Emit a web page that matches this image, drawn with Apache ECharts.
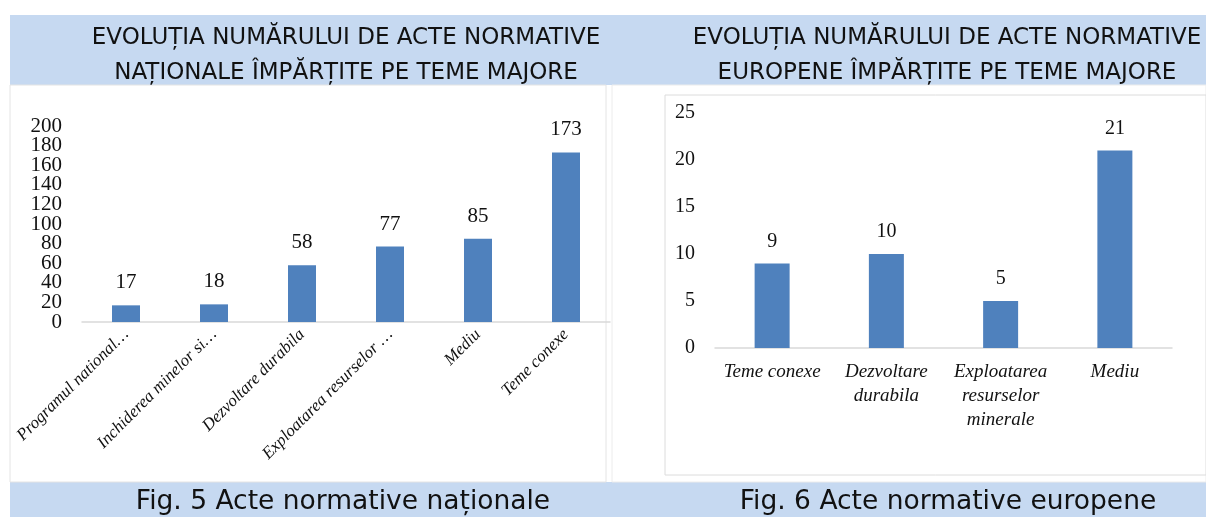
<!DOCTYPE html>
<html>
<head>
<meta charset="utf-8">
<script src="https://cdn.jsdelivr.net/npm/echarts@6/dist/echarts.min.js"></script>
<style>
  html, body { margin: 0; padding: 0; background: #fff; }
  #main { width: 1206px; height: 517px; }
</style>
</head>
<body>
<div id="main"></div>
<script>
  // fig. 5 - acte normative nationale
  var natCategories = ['Programul national…', 'Inchiderea minelor si…', 'Dezvoltare durabila', 'Exploatarea resurselor …', 'Mediu', 'Teme conexe']
  var natValues = [17, 18, 58, 77, 85, 173]
  // fig. 6 - acte normative europene
  var euCategories = ['Teme conexe', 'Dezvoltare\ndurabila', 'Exploatarea\nresurselor\nminerale', 'Mediu']
  var euValues = [9, 10, 5, 21]

  var titleFont = '"DejaVu Sans", Verdana, sans-serif'
  var serif = '"Liberation Serif", "Times New Roman", serif'
  var band = '#c6d9f1'
  var barColor = '#4f81bd'

  // etichetele 0..200 sunt prea dese pt o singura axa (echarts le ascunde),
  // asa ca le impart pe doua axe: 0,40,..200 si 20,60,..180
  var natTop = 126, natH = 196
  var step = natH / 10

  var yLabel = { margin: 20, showMinLabel: true, showMaxLabel: true, fontFamily: serif, fontSize: 21, color: '#111' }

  var myChart = echarts.init(document.getElementById('main'))
  myChart.setOption({
    animation: false,
    graphic: [
      // benzile albastre
      { type: 'rect', shape: { x: 10, y: 15, width: 1196, height: 70 }, style: { fill: band }, z: -10 },
      { type: 'rect', shape: { x: 10, y: 482, width: 1196, height: 35 }, style: { fill: band }, z: -10 },
      // panouri
      { type: 'rect', shape: { x: 10, y: 85, width: 596, height: 397 }, style: { fill: '#fff', stroke: '#e4e4e4', lineWidth: 1 }, z: -9 },
      { type: 'rect', shape: { x: 612, y: 85, width: 594, height: 397 }, style: { fill: '#fff', stroke: '#ececec', lineWidth: 1 }, z: -9 },
      { type: 'rect', shape: { x: 665, y: 95, width: 541, height: 380 }, style: { fill: '#fff', stroke: '#dcdcdc', lineWidth: 1 }, z: -8 }
    ],
    title: [
      {
        text: 'EVOLUȚIA NUMĂRULUI DE ACTE NORMATIVE\nNAȚIONALE ÎMPĂRȚITE PE TEME MAJORE',
        left: 341, top: 16, textAlign: 'center',
        textStyle: { fontFamily: titleFont, fontWeight: 'normal', fontSize: 23, color: '#111', lineHeight: 35 }
      },
      {
        text: 'EVOLUȚIA NUMĂRULUI DE ACTE NORMATIVE\nEUROPENE ÎMPĂRȚITE PE TEME MAJORE',
        left: 942, top: 16, textAlign: 'center',
        textStyle: { fontFamily: titleFont, fontWeight: 'normal', fontSize: 23, color: '#111', lineHeight: 35 }
      },
      {
        text: 'Fig. 5 Acte normative naționale',
        left: 338, top: 484, textAlign: 'center',
        textStyle: { fontFamily: titleFont, fontWeight: 'normal', fontSize: 26.5, color: '#111' }
      },
      {
        text: 'Fig. 6 Acte normative europene',
        left: 943, top: 484, textAlign: 'center',
        textStyle: { fontFamily: titleFont, fontWeight: 'normal', fontSize: 26.5, color: '#111' }
      }
    ],
    grid: [
      { left: 82, top: natTop, width: 528, height: natH },
      { left: 715, top: 113, width: 457, height: 235 },
      { left: 82, top: natTop + step, width: 528, height: natH - 2 * step }
    ],
    xAxis: [
      {
        gridIndex: 0, type: 'category', data: natCategories,
        axisLine: { lineStyle: { color: '#d9d9d9', width: 1.5 } },
        axisTick: { show: false },
        axisLabel: { rotate: 45, interval: 0, margin: 10, fontFamily: serif, fontStyle: 'italic', fontSize: 17, color: '#111' }
      },
      {
        gridIndex: 1, type: 'category', data: euCategories,
        axisLine: { lineStyle: { color: '#d9d9d9', width: 1.5 } },
        axisTick: { show: false },
        axisLabel: { interval: 0, margin: 12, fontFamily: serif, fontStyle: 'italic', fontSize: 19, lineHeight: 24, color: '#111' }
      },
      {
        gridIndex: 2, type: 'category', data: natCategories, show: false
      }
    ],
    yAxis: [
      {
        gridIndex: 0, type: 'value', min: 0, max: 200, interval: 40,
        axisLine: { show: false }, axisTick: { show: false }, splitLine: { show: false },
        axisLabel: yLabel
      },
      {
        gridIndex: 1, type: 'value', min: 0, max: 25, interval: 5,
        axisLine: { show: false }, axisTick: { show: false }, splitLine: { show: false },
        axisLabel: { margin: 20, showMinLabel: true, showMaxLabel: true, fontFamily: serif, fontSize: 20, color: '#111' }
      },
      {
        gridIndex: 2, type: 'value', min: 20, max: 180, interval: 40,
        axisLine: { show: false }, axisTick: { show: false }, splitLine: { show: false },
        axisLabel: yLabel
      }
    ],
    series: [
      {
        type: 'bar', xAxisIndex: 0, yAxisIndex: 0, data: natValues, barWidth: 28,
        itemStyle: { color: barColor },
        label: { show: true, position: 'top', distance: 12, fontFamily: serif, fontSize: 21, color: '#111' }
      },
      {
        type: 'bar', xAxisIndex: 1, yAxisIndex: 1, data: euValues, barWidth: 35,
        itemStyle: { color: barColor },
        label: { show: true, position: 'top', distance: 12, fontFamily: serif, fontSize: 20, color: '#111' }
      }
    ]
  })
</script>
</body>
</html>
